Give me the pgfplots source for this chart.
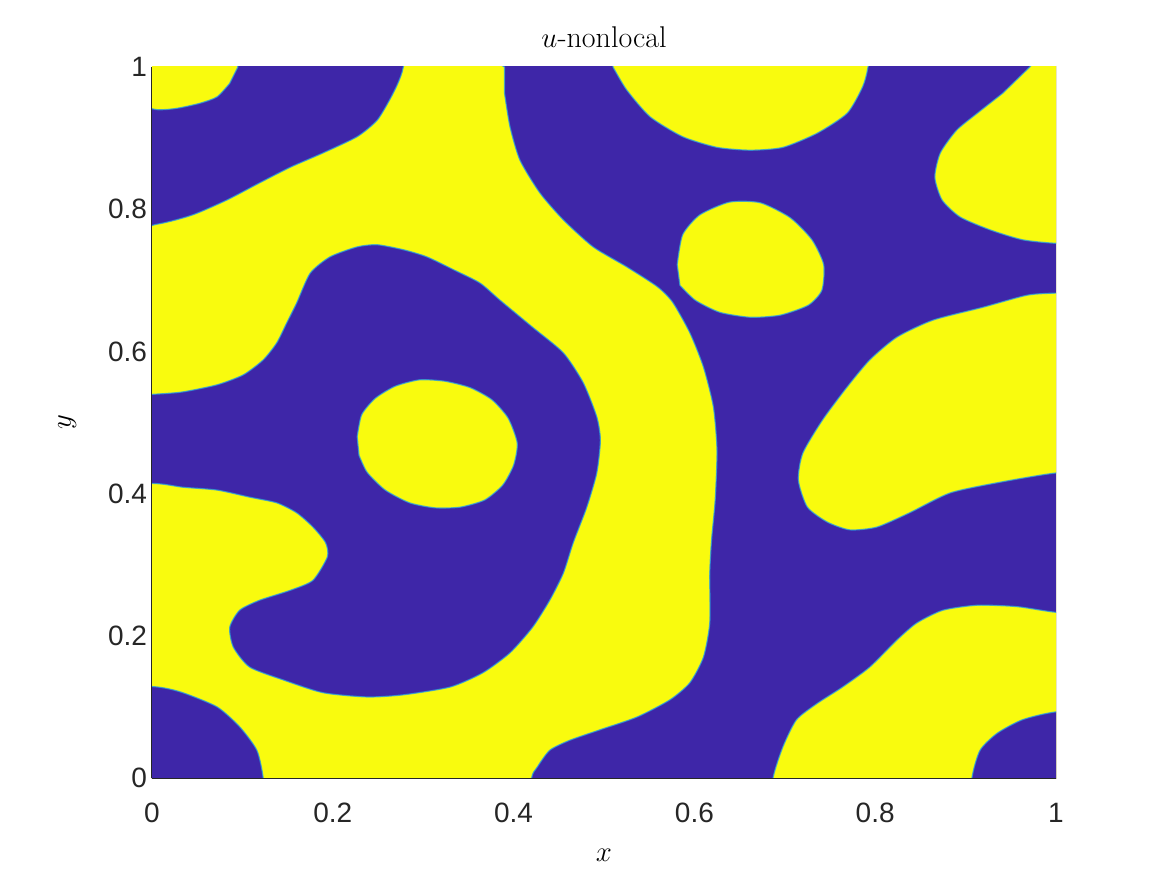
\documentclass[border=0pt]{standalone}
\usepackage{pgfplots}
\pgfplotsset{compat=1.18}
\usepackage{fontspec}
\newfontfamily\hel{Liberation Sans}
\definecolor{pblue}{RGB}{62,38,168}
\definecolor{pyel}{RGB}{249,251,14}
\definecolor{tickc}{RGB}{38,38,38}
\definecolor{fringe}{RGB}{40,160,225}
\begin{document}
\begin{tikzpicture}
\useasboundingbox (-76pt,-48.5pt) rectangle (507.5pt,389pt);
\begin{axis}[
  at={(0,0)}, anchor=south west,
  scale only axis, width=452pt, height=355.5pt,
  xmin=0, xmax=1, ymin=0, ymax=1,
  axis x line*=bottom, axis y line*=left,
  axis line style={draw=tickc, line width=0.5pt},
  major tick length=0pt,
  xtick={0,0.2,0.4,0.6,0.8,1}, ytick={0,0.2,0.4,0.6,0.8,1},
  xticklabels={0,0.2,0.4,0.6,0.8,1}, yticklabels={0,0.2,0.4,0.6,0.8,1},
  /pgf/number format/assume math mode=true,
  ticklabel style={font=\hel\fontsize{14}{16}\selectfont, text=tickc},
  xticklabel style={yshift=-9pt},
  yticklabel style={xshift=1pt},
  title={$u$-nonlocal},
  title style={font=\fontsize{15}{17}\selectfont, yshift=0pt},
  xlabel={$x$}, ylabel={$y$},
  label style={font=\fontsize{15}{17}\selectfont},
  xlabel style={yshift=-6pt},
  ylabel style={yshift=9pt},
  axis on top,
  every axis plot/.append style={smooth, tension=0.4, draw=fringe, draw opacity=0.75, line width=0.6pt},
]
% background (yellow)
\addplot[fill=pyel, draw=none, sharp plot] coordinates {(-0.1,-0.1) (1.1,-0.1) (1.1,1.1) (-0.1,1.1)} -- cycle;
% top-left blue
\addplot[fill=pblue] coordinates {
(0.095,1) (0.100,1.06) (0.283,1.06) (0.278,1) (0.272,0.977) (0.263,0.954) (0.249,0.925) (0.227,0.902)
(0.189,0.879) (0.153,0.859) (0.119,0.837) (0.083,0.813) (0.045,0.792)
(0.006,0.779) (-0.06,0.770) (-0.06,0.945) (0.006,0.940) (0.028,0.942) (0.053,0.949)
(0.072,0.958) (0.086,0.977)} -- cycle;
% central C-shaped blue
\addplot[fill=pblue] coordinates {
(-0.06,0.535) (0.006,0.540) (0.034,0.543) (0.072,0.553) (0.101,0.567) (0.123,0.588) (0.138,0.612)
(0.149,0.640) (0.160,0.668) (0.175,0.710) (0.197,0.733) (0.227,0.747) (0.249,0.750)
(0.278,0.743) (0.304,0.733) (0.335,0.714) (0.363,0.696) (0.385,0.672) (0.421,0.634)
(0.455,0.598) (0.477,0.556) (0.492,0.508) (0.496,0.475) (0.492,0.429) (0.481,0.381)
(0.466,0.331) (0.455,0.288) (0.440,0.250) (0.421,0.212) (0.396,0.176) (0.366,0.148)
(0.330,0.128) (0.278,0.117) (0.238,0.114) (0.189,0.120) (0.145,0.138) (0.108,0.156)
(0.090,0.184) (0.086,0.212) (0.097,0.236) (0.119,0.250) (0.153,0.264) (0.178,0.278)
(0.194,0.311) (0.192,0.331) (0.178,0.353) (0.160,0.373) (0.138,0.387) (0.108,0.395)
(0.072,0.405) (0.034,0.409) (0.006,0.414) (-0.06,0.417)} -- cycle;
% bottom-left blue
\addplot[fill=pblue] coordinates {
(-0.06,0.133) (0.006,0.128) (0.034,0.120) (0.072,0.100) (0.097,0.072) (0.116,0.039)
(0.123,0) (0.126,-0.06) (-0.06,-0.06)} -- cycle;
% large right blue
\addplot[fill=pblue] coordinates {
(0.390,1) (0.391,1.06) (1.06,1.06) (1.06,-0.06) (0.418,-0.06) (0.420,0) (0.426,0.015) (0.440,0.039) (0.462,0.053)
(0.496,0.068) (0.537,0.086) (0.573,0.110) (0.595,0.134) (0.610,0.170) (0.617,0.218)
(0.617,0.288) (0.619,0.335) (0.623,0.391) (0.625,0.461) (0.621,0.522) (0.610,0.578)
(0.595,0.626) (0.576,0.669) (0.559,0.691) (0.525,0.719) (0.488,0.747) (0.455,0.785)
(0.429,0.823) (0.407,0.869) (0.396,0.916) (0.390,0.963)} -- cycle;
% top-center yellow
\addplot[fill=pyel] coordinates {
(0.502,1.06) (0.797,1.06) (0.792,1) (0.786,0.972) (0.769,0.935) (0.736,0.907) (0.698,0.887)
(0.662,0.883) (0.625,0.887) (0.587,0.902) (0.551,0.930) (0.525,0.968) (0.510,1)} -- cycle;
% top-right yellow
\addplot[fill=pyel] coordinates {
(0.971,1) (1.0,1.035) (1.06,1.06) (1.06,0.750) (1,0.752) (0.963,0.757) (0.927,0.771) (0.894,0.789) (0.874,0.813)
(0.866,0.845) (0.872,0.879) (0.890,0.911) (0.913,0.935) (0.941,0.963)} -- cycle;
% right-middle yellow
\addplot[fill=pyel] coordinates {
(1.06,0.683) (1,0.682) (0.968,0.679) (0.919,0.662) (0.864,0.644) (0.824,0.620) (0.794,0.588)
(0.769,0.550) (0.742,0.504) (0.720,0.457) (0.715,0.419) (0.725,0.381) (0.747,0.360)
(0.772,0.349) (0.802,0.353) (0.838,0.373) (0.883,0.401) (0.938,0.416) (1,0.429) (1.06,0.432)} -- cycle;
% bottom-right yellow
\addplot[fill=pyel] coordinates {
(0.683,-0.06) (0.687,0) (0.698,0.044) (0.713,0.082) (0.736,0.105) (0.764,0.128) (0.794,0.156)
(0.824,0.194) (0.846,0.218) (0.875,0.236) (0.913,0.243) (0.957,0.241) (1,0.233)
(1.06,0.228) (1.06,-0.06)} -- cycle;
% small yellow circle (upper middle)
\addplot[fill=pyel] coordinates {
(0.581,0.722) (0.587,0.764) (0.606,0.792) (0.639,0.810) (0.673,0.809) (0.706,0.788)
(0.730,0.757) (0.743,0.722) (0.741,0.686) (0.726,0.665) (0.695,0.651) (0.662,0.648)
(0.628,0.655) (0.601,0.672) (0.584,0.693)} -- cycle;
% yellow circle inside C
\addplot[fill=pyel] coordinates {
(0.227,0.480) (0.232,0.511) (0.247,0.534) (0.269,0.551) (0.296,0.560) (0.324,0.558)
(0.352,0.549) (0.376,0.532) (0.394,0.506) (0.404,0.471) (0.400,0.440) (0.388,0.412)
(0.368,0.391) (0.341,0.381) (0.313,0.380) (0.285,0.387) (0.258,0.405) (0.238,0.430)
(0.229,0.454)} -- cycle;
% bottom-right blue
\addplot[fill=pblue] coordinates {
(1.06,0.096) (1,0.093) (0.963,0.082) (0.935,0.063) (0.916,0.039) (0.907,0) (0.905,-0.06) (1.06,-0.06)} -- cycle;
\end{axis}
\end{tikzpicture}
\end{document}
